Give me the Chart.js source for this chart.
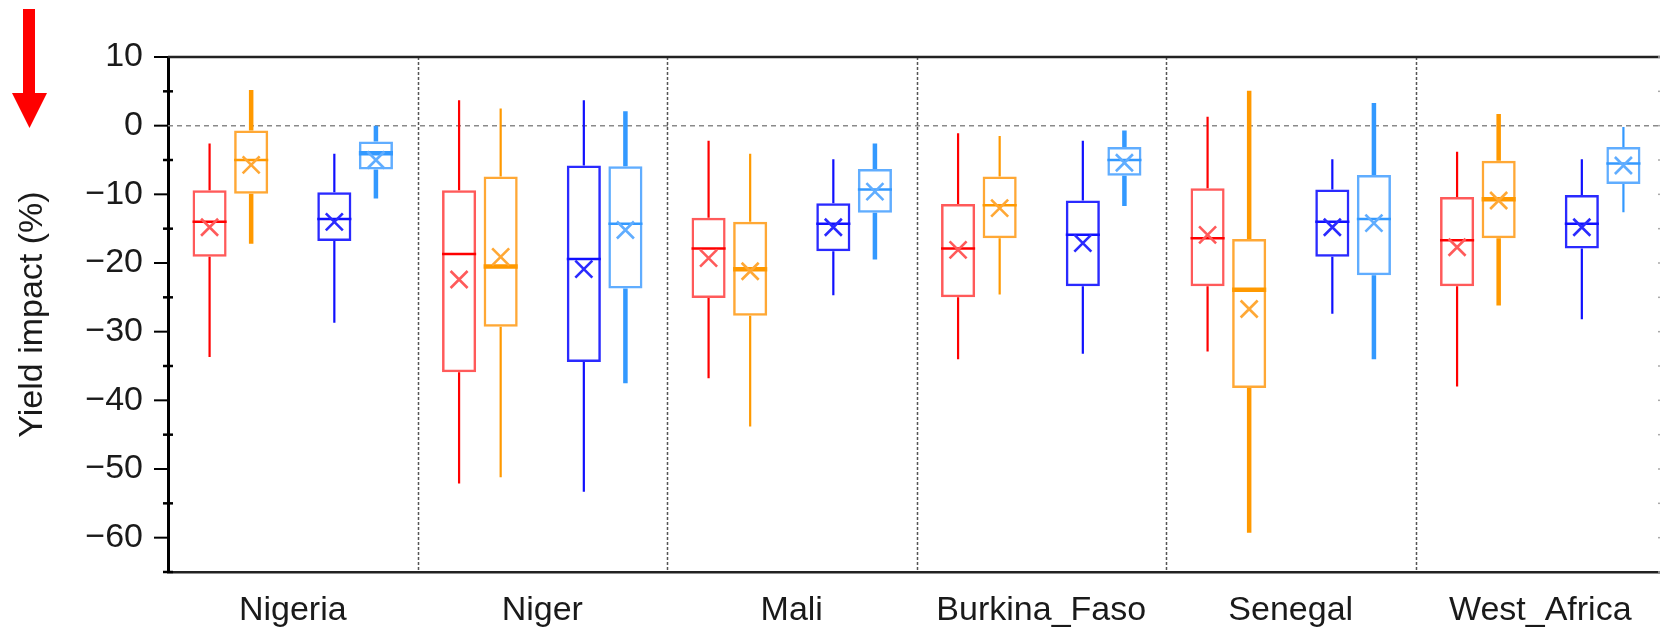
<!DOCTYPE html>
<html>
<head>
<meta charset="utf-8">
<script src="https://cdn.jsdelivr.net/npm/chart.js@4"></script>
<style>
  html, body { margin: 0; padding: 0; background: #fff; overflow: hidden; }
  #wrap { width: 1660px; height: 627px; overflow: hidden; }
</style>
</head>
<body>
<div id="wrap"><canvas id="chart" width="1668" height="627"></canvas></div>
<script>
const countries = ['Nigeria', 'Niger', 'Mali', 'Burkina_Faso', 'Senegal', 'West_Africa'];

// per country: [whisker low, Q1, median, Q3, whisker high, mean]
const redBox = [
    [-33.7, -19.1, -14.0, -9.4, -2.6, -14.8],
    [-52.1, -35.9, -18.7, -9.4, 3.7, -22.4],
    [-36.8, -25.1, -17.9, -13.4, -2.2, -19.3],
    [-34.0, -25.0, -17.9, -11.4, -1.1, -18.1],
    [-32.9, -23.4, -16.4, -9.1, 1.3, -15.9],
    [-38.0, -23.4, -16.7, -10.4, -3.8, -17.7]
];
const orangeBox = [
    [-17.2, -9.9, -5.0, -0.7, 5.2, -5.7],
    [-51.2, -29.3, -20.5, -7.4, 2.5, -19.1],
    [-43.8, -27.7, -20.9, -14.0, -4.1, -21.2],
    [-24.6, -16.4, -11.6, -7.4, -1.5, -12.0],
    [-59.3, -38.2, -23.9, -16.5, 5.1, -26.7],
    [-26.2, -16.4, -10.7, -5.1, 1.7, -10.9]
];
const blueBox = [
    [-28.7, -16.8, -13.6, -9.7, -4.1, -14.0],
    [-53.3, -34.4, -19.4, -5.8, 3.7, -20.9],
    [-24.7, -18.3, -14.3, -11.3, -4.9, -14.8],
    [-33.2, -23.4, -15.9, -10.9, -2.2, -17.1],
    [-27.4, -19.1, -14.0, -9.3, -4.9, -14.8],
    [-28.2, -17.9, -14.3, -10.1, -4.9, -14.8]
];
const lightBox = [
    [-10.6, -6.4, -4.0, -2.3, 0.0, -5.0],
    [-37.5, -23.7, -14.3, -5.9, 2.1, -15.2],
    [-19.5, -12.7, -9.3, -6.3, -2.6, -9.6],
    [-11.7, -7.3, -5.0, -3.1, -0.7, -5.4],
    [-34.0, -21.8, -13.6, -7.2, 3.3, -14.2],
    [-12.6, -8.5, -5.5, -3.1, -0.2, -5.8]
];

const yTicks = [10, 0, -10, -20, -30, -40, -50, -60];

// which whiskers / medians are drawn bold
const boldWhisker = {
    red: [0, 0, 0, 0, 0, 0],
    orange: [1, 0, 0, 0, 1, 1],
    blue: [0, 0, 0, 0, 0, 0],
    light: [1, 1, 1, 1, 1, 0]
};
const boldMedian = {
    red: [0, 0, 0, 0, 0, 0],
    orange: [0, 1, 1, 0, 1, 1],
    blue: [0, 0, 0, 0, 0, 0],
    light: [1, 0, 0, 0, 0, 0]
};

const series = [
    { key: 'red', stats: redBox, line: '#ff0000', box: '#ff5a5a' },
    { key: 'orange', stats: orangeBox, line: '#ff9900', box: '#ffa835' },
    null, // empty slot in the middle of each group
    { key: 'blue', stats: blueBox, line: '#1010ff', box: '#2a2aff' },
    { key: 'light', stats: lightBox, line: '#3399ff', box: '#60adff' }
];

const datasets = series.map(s => ({
    label: s ? s.key : '',
    data: s ? s.stats.map(r => [r[1], r[3]]) : countries.map(() => null),
    backgroundColor: 'rgba(0,0,0,0)',
    borderColor: s ? s.box : 'rgba(0,0,0,0)',
    borderWidth: 2.5,
    borderSkipped: false,
    categoryPercentage: 5 / 6,
    barPercentage: 0.82
}));

const boxPlugin = {
    id: 'boxExtras',
    beforeDatasetsDraw(chart) {
        const { ctx, chartArea: a, scales: { x, y } } = chart;
        ctx.save();
        // zero line
        ctx.strokeStyle = '#8a8a8a';
        ctx.lineWidth = 1.5;
        ctx.setLineDash([5, 4]);
        ctx.beginPath();
        ctx.moveTo(a.left, y.getPixelForValue(0));
        ctx.lineTo(a.right, y.getPixelForValue(0));
        ctx.stroke();
        // separators between countries
        ctx.strokeStyle = '#555';
        ctx.setLineDash([3, 2]);
        const half = (x.getPixelForValue(1) - x.getPixelForValue(0)) / 2;
        for (let i = 1; i < countries.length; i++) {
            const px = Math.round(x.getPixelForValue(i) - half) + 0.5;
            ctx.beginPath();
            ctx.moveTo(px, a.top);
            ctx.lineTo(px, a.bottom);
            ctx.stroke();
        }
        ctx.restore();
    },
    afterDatasetsDraw(chart) {
        const { ctx, scales: { y } } = chart;
        ctx.save();
        ctx.lineCap = 'butt';
        series.forEach((s, di) => {
            if (!s) return;
            const meta = chart.getDatasetMeta(di);
            meta.data.forEach((bar, i) => {
                const st = s.stats[i];
                const bx = bar.x, w = bar.width;
                // whiskers
                ctx.strokeStyle = s.line;
                ctx.lineWidth = boldWhisker[s.key][i] ? 4.5 : 2.2;
                ctx.beginPath();
                ctx.moveTo(bx, y.getPixelForValue(st[4]));
                ctx.lineTo(bx, y.getPixelForValue(st[3]));
                ctx.moveTo(bx, y.getPixelForValue(st[1]));
                ctx.lineTo(bx, y.getPixelForValue(st[0]));
                ctx.stroke();
                // median
                ctx.lineWidth = boldMedian[s.key][i] ? 4.5 : 2.5;
                const my = y.getPixelForValue(st[2]);
                ctx.beginPath();
                ctx.moveTo(bx - w / 2, my);
                ctx.lineTo(bx + w / 2, my);
                ctx.stroke();
                // mean
                const ey = y.getPixelForValue(st[5]);
                const r = 8.5;
                ctx.strokeStyle = s.box;
                ctx.lineWidth = 2.6;
                ctx.beginPath();
                ctx.moveTo(bx - r, ey - r);
                ctx.lineTo(bx + r, ey + r);
                ctx.moveTo(bx + r, ey - r);
                ctx.lineTo(bx - r, ey + r);
                ctx.stroke();
            });
        });
        ctx.restore();
    },
    afterDraw(chart) {
        const { ctx, chartArea: a, scales: { y } } = chart;
        ctx.save();
        // top border
        ctx.strokeStyle = '#222';
        ctx.lineWidth = 2.5;
        ctx.beginPath();
        ctx.moveTo(a.left, a.top);
        ctx.lineTo(a.right, a.top);
        ctx.stroke();
        // tick marks, major outward and minor across the axis
        for (let v = 10; v >= -65; v -= 5) {
            const py = y.getPixelForValue(v);
            ctx.strokeStyle = '#000';
            ctx.lineWidth = v % 10 === 0 ? 2 : 2.5;
            ctx.beginPath();
            if (v % 10 === 0) {
                ctx.moveTo(a.left - 14, py);
                ctx.lineTo(a.left, py);
            } else {
                ctx.moveTo(a.left - 5, py);
                ctx.lineTo(a.left + 5, py);
            }
            ctx.stroke();
            // right axis ticks (mostly off screen)
            ctx.strokeStyle = '#aaa';
            ctx.lineWidth = 1.5;
            ctx.beginPath();
            ctx.moveTo(a.right - 7, py);
            ctx.lineTo(a.right, py);
            ctx.stroke();
        }
        // red arrow top left
        ctx.fillStyle = '#ff0000';
        ctx.fillRect(23, 9, 12, 86);
        ctx.beginPath();
        ctx.moveTo(12, 93);
        ctx.lineTo(47, 93);
        ctx.lineTo(29.5, 128);
        ctx.closePath();
        ctx.fill();
        ctx.restore();
    }
};

const font = { family: '"Liberation Sans", Arial, Helvetica, sans-serif', size: 34 };

new Chart(document.getElementById('chart'), {
    type: 'bar',
    data: { labels: countries, datasets: datasets },
    options: {
        responsive: false,
        animation: false,
        events: [],
        layout: { padding: { top: 57, right: 3, left: 0, bottom: 0 } },
        plugins: { legend: { display: false }, tooltip: { enabled: false } },
        scales: {
            x: {
                grid: { display: false, drawTicks: false },
                border: { display: true, color: '#222', width: 2.5 },
                ticks: { color: '#1a1a1a', font: font, padding: 18, maxRotation: 0, autoSkip: false },
                afterFit: scale => { scale.height = 55; }
            },
            y: {
                min: -65,
                max: 10,
                grid: { display: false, drawTicks: false },
                border: { display: true, color: '#000', width: 3 },
                ticks: {
                    stepSize: 10,
                    autoSkip: false,
                    color: '#1a1a1a',
                    font: font,
                    padding: 25,
                    callback: v => yTicks.includes(v) ? String(v).replace('-', '\u2212') : ''
                },
                afterBuildTicks: scale => { scale.ticks = yTicks.map(v => ({ value: v })); },
                title: {
                    display: true,
                    text: 'Yield impact (%)',
                    color: '#1a1a1a',
                    font: font,
                    padding: { top: 12, bottom: 0 }
                },
                afterFit: scale => { scale.width = 168; }
            }
        }
    },
    plugins: [boxPlugin]
});
</script>
</body>
</html>
